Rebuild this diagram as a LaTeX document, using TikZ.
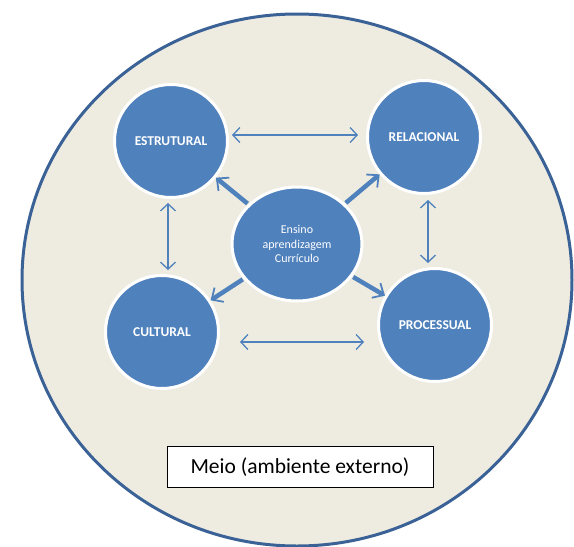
\documentclass[tikz,border=0pt]{standalone}
\usepackage{fontspec}
\setmainfont{Carlito}
\usetikzlibrary{arrows.meta,shapes.geometric}
\definecolor{bgtan}{HTML}{EEECE1}
\definecolor{outerblue}{HTML}{3B6296}
\definecolor{nodeblue}{HTML}{4F81BD}
\begin{document}
\begin{tikzpicture}[x=1pt,y=-1pt,
  outer/.style={draw=outerblue,line width=3pt,fill=bgtan},
  bubble/.style={circle,fill=nodeblue,draw=white,line width=3pt,minimum size=113pt,inner sep=0pt,text=white,font=\bfseries\fontsize{13.5}{16}\selectfont},
  centre/.style={ellipse,fill=nodeblue,draw=white,line width=3pt,minimum width=130pt,minimum height=114pt,inner sep=0pt,text=white,align=center,font=\fontsize{12}{14.5}\selectfont},
  link/.style={draw=nodeblue,line width=1.3pt,{Straight Barb[length=7pt,width=15pt]}-{Straight Barb[length=7pt,width=15pt]}},
  spoke/.style={draw=nodeblue,line width=4.5pt,-{Straight Barb[length=9pt,width=17pt,line width=1.8pt]}},
  label/.style={draw=black,line width=1pt,fill=white,minimum width=266pt,minimum height=41pt,inner sep=0pt,font=\fontsize{21.5}{24}\selectfont}]
\useasboundingbox (0,0) rectangle (574,547);
\fill[white] (0,0) rectangle (574,547);
\draw[outer] (297,280) ellipse [x radius=275, y radius=266];
\node[bubble] (est) at (171,141) {ESTRUTURAL};
\node[bubble] (rel) at (424,137) {RELACIONAL};
\node[bubble] (cul) at (162,332) {CULTURAL};
\node[bubble] (pro) at (435,325) {PROCESSUAL};
\node[centre] (c) at (297,244) {Ensino\\aprendizagem\\Currículo};
\node[label] (meio) at (300,467) {Meio (ambiente externo)};
\coordinate (h1a) at (232,135); \coordinate (h1b) at (358,135);
\coordinate (h2a) at (240,342); \coordinate (h2b) at (364,342);
\coordinate (v1a) at (168,203); \coordinate (v1b) at (168,270);
\coordinate (v2a) at (428,200); \coordinate (v2b) at (428,263);
\draw[link] (h1a) -- (h1b);
\draw[link] (h2a) -- (h2b);
\draw[link] (v1a) -- (v1b);
\draw[link] (v2a) -- (v2b);
\draw[spoke,shorten <=1pt] (c) -- (est);
\draw[spoke,shorten <=1pt] (c) -- (rel);
\draw[spoke,shorten <=1pt] (c) -- (cul);
\draw[spoke,shorten <=1pt] (c) -- (pro);
\end{tikzpicture}
\end{document}
